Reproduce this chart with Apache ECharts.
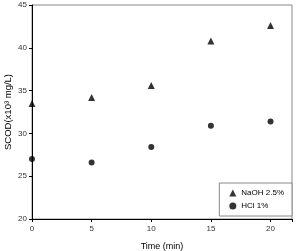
<!DOCTYPE html>
<html><head><meta charset="utf-8">
<script src="https://cdn.jsdelivr.net/npm/echarts@6/dist/echarts.min.js"></script>
<style>html,body{margin:0;padding:0;background:#fff}#c{width:297px;height:251px}</style>
</head><body><div id="c"></div>
<script>
var times = [0, 5, 10, 15, 20];
var naoh = [33.5, 34.2, 35.6, 40.8, 42.6];
var hcl = [27.0, 26.6, 28.4, 30.9, 31.4];
var seriesNames = ['NaOH 2.5%', 'HCl 1%'];
var xTicks = [0, 5, 10, 15, 20];
var yTicks = [20, 25, 30, 35, 40, 45];

function pairs(xs, ys){ return xs.map(function(x,i){return [x, ys[i]];}); }
var chart = echarts.init(document.getElementById('c'));
var font = 'Liberation Sans, Arial, sans-serif';
chart.setOption({
  animation: false,
  grid: {left: 32, top: 5, right: 5, bottom: 32, show: true, borderColor: '#888', borderWidth: 1,
         containLabel: false, outerBoundsMode: 'none'},
  xAxis: {
    type: 'value', min: 0, max: 21.8, interval: 5,
    axisLine: {show: true, lineStyle: {color: '#000', width: 1}},
    axisTick: {show: true, length: 3, lineStyle: {color: '#000'}},
    splitLine: {show: false},
    axisLabel: {color: '#333', fontSize: 8, fontFamily: font, margin: 6,
      formatter: function(v){ return xTicks.indexOf(v) >= 0 ? String(v) : ''; }},
    name: 'Time (min)', nameLocation: 'middle', nameGap: 23, nameMoveOverlap: false,
    nameTextStyle: {color: '#000', fontSize: 9, fontFamily: font}
  },
  yAxis: {
    type: 'value', min: 20, max: 45, interval: 5,
    axisLine: {show: true, lineStyle: {color: '#000', width: 1}},
    axisTick: {show: true, length: 3, lineStyle: {color: '#000'}},
    splitLine: {show: false},
    axisLabel: {color: '#333', fontSize: 8, fontFamily: font, margin: 5,
      formatter: function(v){ return yTicks.indexOf(v) >= 0 ? String(v) : ''; }},
    name: 'SCOD(x10³ mg/L)', nameLocation: 'middle', nameGap: 19, nameRotate: 90, nameMoveOverlap: false,
    nameTextStyle: {color: '#000', fontSize: 9.5, fontFamily: font}
  },
  legend: {
    orient: 'vertical', right: 5, bottom: 35,
    data: seriesNames,
    itemWidth: 7, itemHeight: 7, itemGap: 5,
    padding: [6, 8, 6, 10],
    borderColor: '#888', borderWidth: 1, backgroundColor: '#fff',
    textStyle: {fontSize: 8, fontFamily: font, color: '#000'}
  },
  series: [
    {name: seriesNames[0], type: 'scatter', symbol: 'triangle', symbolSize: 7,
     itemStyle: {color: '#000'}, data: pairs(times, naoh)},
    {name: seriesNames[1], type: 'scatter', symbol: 'circle', symbolSize: 6,
     itemStyle: {color: '#000'}, data: pairs(times, hcl)}
  ]
});
</script></body></html>
